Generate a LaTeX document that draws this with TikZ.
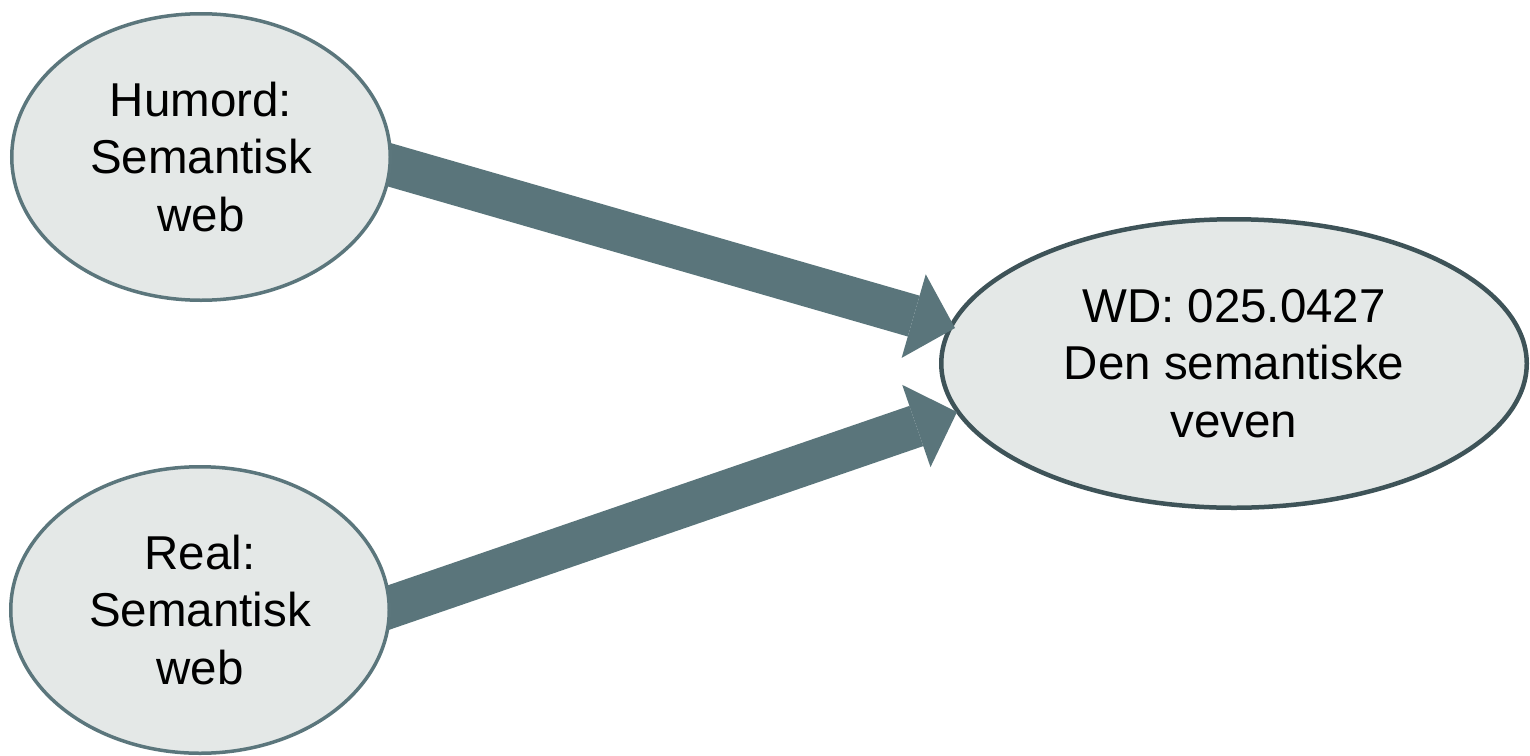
\documentclass[tikz,border=0pt]{standalone}
\usepackage{fontspec}
\setmainfont{Liberation Sans}
\usetikzlibrary{shapes.geometric,arrows.meta}
\definecolor{arrowcol}{HTML}{5A757B}
\definecolor{lborder}{HTML}{5B767C}
\definecolor{rborder}{HTML}{3E5358}
\definecolor{ellfill}{HTML}{E4E8E7}
\pgfdeclarelayer{back}
\pgfdeclarelayer{mid}
\pgfsetlayers{back,mid,main}
\tikzset{
  bubble/.style={ellipse, fill=ellfill, inner sep=0pt, align=center,
    font=\fontsize{47.5}{57.5}\selectfont},
  leftbubble/.style={bubble, draw=lborder, line width=3.5pt,
    minimum width=378.5pt, minimum height=286.5pt},
  rightbubble/.style={bubble, draw=rborder, line width=4.5pt,
    minimum width=585.5pt, minimum height=288.5pt},
  bigarrow/.style={draw=arrowcol, line width=42.5pt,
    -{Triangle[width=87pt,length=43pt,line width=0pt,fill=arrowcol]}}
}
\begin{document}
\begin{tikzpicture}[x=1pt,y=-1pt]
\useasboundingbox (0,0) rectangle (1530,755);
\node[leftbubble] (h) at (201,157) {Humord:\\Semantisk\\web};
\node[leftbubble] (r) at (200,610) {Real:\\Semantisk\\web};
\begin{pgfonlayer}{back}
\node[rightbubble] (w) at (1234,363.5) {WD: 025.0427\\Den semantiske\\veven};
\end{pgfonlayer}
\begin{pgfonlayer}{mid}
\draw[bigarrow] ([xshift=99pt,yshift=18pt]h.center) -- ([xshift=16pt,yshift=35.5pt]w.west);
\draw[bigarrow] ([xshift=100pt,yshift=-28pt]r.center) -- ([xshift=18pt,yshift=-48.5pt]w.west);
\end{pgfonlayer}
\end{tikzpicture}
\end{document}
